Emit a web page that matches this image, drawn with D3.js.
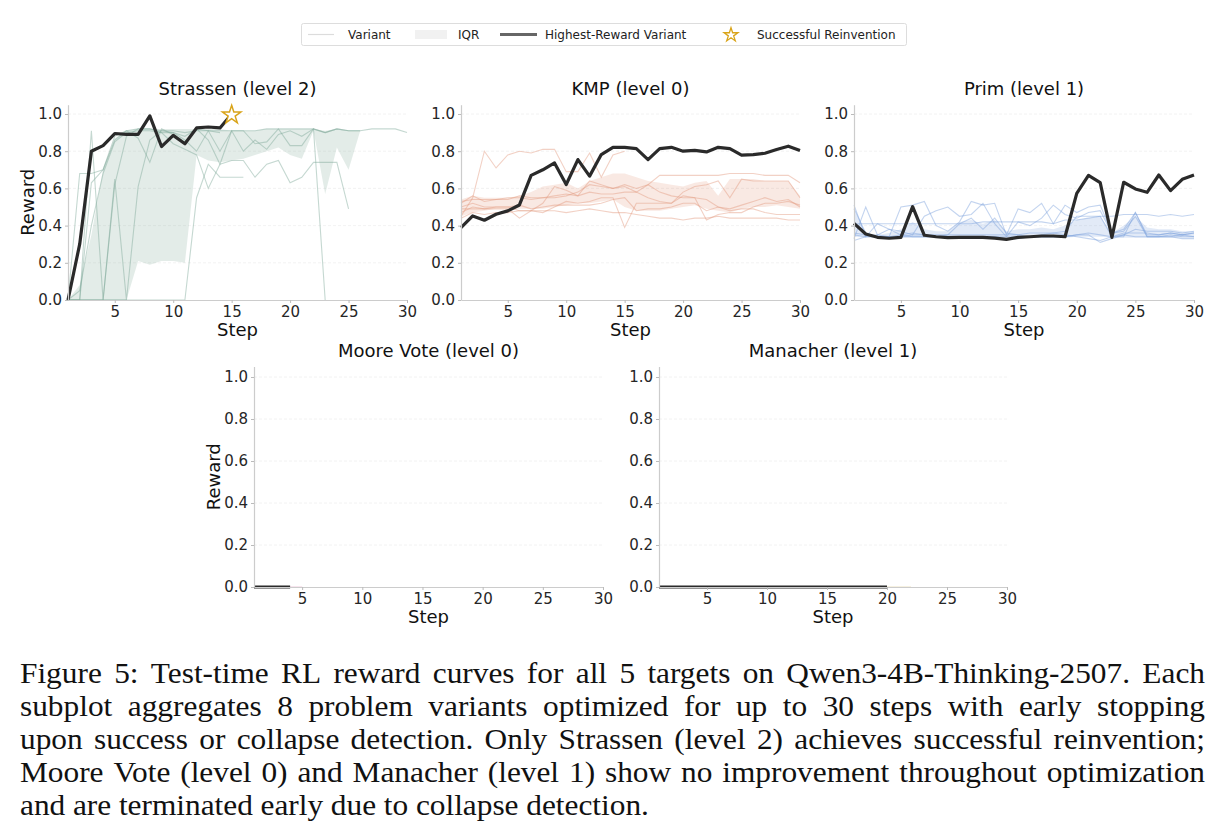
<!DOCTYPE html>
<html>
<head>
<meta charset="utf-8">
<script src="https://cdn.jsdelivr.net/npm/d3@7"></script>
<style>
  body { margin: 0; background: #fff; }
  svg text { font-family: "DejaVu Sans", sans-serif; }
  svg text.cap { font-family: "Liberation Serif", serif; font-size: 28.5px; }
</style>
</head>
<body>
<svg id="fig" width="1223" height="837"></svg>
<script>
// ---- data ----
const yTicks = [0, 0.2, 0.4, 0.6, 0.8, 1.0];
const xTicks = [5, 10, 15, 20, 25, 30];

const strassenBest = [0.00, 0.30, 0.80, 0.83, 0.895, 0.89, 0.89, 0.99, 0.825, 0.885, 0.84, 0.925, 0.93, 0.925, 1.00];
const strassenVariants = [
  [0.00, 0.68, 0.68, 0.70, 0.86, 0.91, 0.92, 0.92, 0.91, 0.91, 0.90, 0.91, 0.91, 0.91, 0.91, 0.91, 0.91, 0.92, 0.92, 0.92, 0.92, 0.92, 0.90, 0.92, 0.91, 0.91, 0.92, 0.92, 0.92, 0.90],
  [0.00, 0.00, 0.91, 0.00, 0.65, 0.00, 0.61, 0.86, 0.91, 0.90, 0.86, 0.80, 0.91, 0.80, 0.91, 0.80, 0.86, 0.81, 0.89, 0.91, 0.88, 0.92, 0.00],
  [0.00, 0.00, 0.63, 0.70, 0.88, 0.91, 0.87, 0.74, 0.92, 0.89, 0.85, 0.92, 0.86, 0.73, 0.91, 0.91, 0.84, 0.85, 0.92, 0.83, 0.83, 0.92, 0.90, 0.92, 0.91, 0.91],
  [0.00, 0.00, 0.00, 0.00, 0.00, 0.00, 0.00, 0.00, 0.00, 0.00, 0.00, 0.55, 0.73, 0.66, 0.66, 0.66],
  [0.00, 0.00, 0.00, 0.00, 0.62, 0.88, 0.92, 0.92, 0.90, 0.84, 0.81, 0.78, 0.60, 0.73, 0.75, 0.75, 0.66, 0.73, 0.75, 0.63, 0.66, 0.74, 0.74, 0.74, 0.49],
  [0.00, 0.05, 0.40, 0.68, 0.85, 0.90, 0.91, 0.91, 0.90, 0.90, 0.88, 0.92, 0.91, 0.90],
  [0.00, 0.00, 0.00, 0.00, 0.00, 0.00]
];
const strassenIqrLo = [0, 0, 0, 0, 0, 0, 0.21, 0.19, 0.21, 0.21, 0.20, 0.78, 0.75, 0.74, 0.75, 0.76, 0.78, 0.80, 0.82, 0.78, 0.76, 0.91, 0.57, 0.82, 0.70, 0.91];
const strassenIqrHi = [0, 0.08, 0.35, 0.70, 0.87, 0.91, 0.92, 0.92, 0.92, 0.92, 0.92, 0.92, 0.92, 0.92, 0.91, 0.91, 0.91, 0.92, 0.92, 0.92, 0.92, 0.92, 0.91, 0.92, 0.91, 0.91];

const kmpBest = [0.389, 0.452, 0.429, 0.461, 0.479, 0.511, 0.67, 0.70, 0.737, 0.621, 0.755, 0.666, 0.782, 0.821, 0.821, 0.814, 0.755, 0.814, 0.821, 0.80, 0.804, 0.796, 0.821, 0.814, 0.779, 0.782, 0.789, 0.809, 0.827, 0.804];
const kmpVariants = [
  [0.45, 0.55, 0.80, 0.71, 0.78, 0.80, 0.79, 0.81, 0.81, 0.69, 0.69, 0.79, 0.66, 0.78, 0.80],
  [0.52, 0.56, 0.53, 0.54, 0.54, 0.56, 0.55, 0.55, 0.55, 0.56, 0.58, 0.62, 0.61, 0.60, 0.62, 0.60, 0.62, 0.67, 0.67, 0.67, 0.67, 0.67, 0.67, 0.68, 0.68, 0.68, 0.67, 0.67, 0.67, 0.63],
  [0.50, 0.52, 0.50, 0.50, 0.50, 0.48, 0.48, 0.47, 0.50, 0.53, 0.52, 0.53, 0.55, 0.55, 0.39, 0.52, 0.52, 0.52, 0.52, 0.56, 0.55, 0.43, 0.46, 0.47, 0.47, 0.50, 0.52, 0.52, 0.53, 0.51],
  [0.47, 0.50, 0.49, 0.49, 0.49, 0.44, 0.48, 0.52, 0.61, 0.59, 0.56, 0.64, 0.62, 0.60, 0.61, 0.58, 0.62, 0.58, 0.56, 0.55, 0.55, 0.54, 0.50, 0.49, 0.51, 0.53, 0.55, 0.53, 0.54, 0.50],
  [0.44, 0.47, 0.46, 0.47, 0.47, 0.48, 0.48, 0.48, 0.48, 0.47, 0.48, 0.49, 0.48, 0.47, 0.47, 0.46, 0.45, 0.44, 0.44, 0.43, 0.44, 0.44, 0.45, 0.44, 0.44, 0.44, 0.44, 0.44, 0.43, 0.43],
  [0.53, 0.54, 0.54, 0.54, 0.55, 0.55, 0.54, 0.55, 0.56, 0.57, 0.56, 0.58, 0.57, 0.57, 0.58, 0.58, 0.55, 0.53, 0.52, 0.58, 0.61, 0.62, 0.64, 0.55, 0.65, 0.64, 0.64, 0.64, 0.64, 0.55],
  [0.49, 0.49, 0.49, 0.50, 0.50, 0.51, 0.49, 0.50, 0.51, 0.51, 0.51, 0.51, 0.52, 0.54, 0.55, 0.48, 0.49, 0.49, 0.50, 0.52, 0.52, 0.48, 0.50, 0.48, 0.49, 0.49, 0.47, 0.46, 0.46, 0.46]
];
const kmpIqrLo = [0.45, 0.47, 0.48, 0.49, 0.49, 0.49, 0.49, 0.49, 0.50, 0.51, 0.52, 0.52, 0.53, 0.54, 0.50, 0.48, 0.48, 0.48, 0.49, 0.50, 0.51, 0.49, 0.48, 0.47, 0.49, 0.50, 0.50, 0.51, 0.50, 0.49];
const kmpIqrHi = [0.54, 0.56, 0.55, 0.55, 0.55, 0.56, 0.58, 0.61, 0.62, 0.63, 0.60, 0.64, 0.66, 0.68, 0.68, 0.66, 0.64, 0.63, 0.62, 0.61, 0.63, 0.64, 0.56, 0.65, 0.65, 0.65, 0.64, 0.64, 0.64, 0.56];

const primBest = [0.412, 0.355, 0.337, 0.332, 0.337, 0.502, 0.348, 0.34, 0.335, 0.337, 0.337, 0.337, 0.333, 0.326, 0.337, 0.34, 0.344, 0.344, 0.34, 0.573, 0.67, 0.631, 0.337, 0.633, 0.597, 0.579, 0.672, 0.588, 0.649, 0.672];
const primVariants = [
  [0.49, 0.36, 0.34, 0.34, 0.50, 0.51, 0.53, 0.40, 0.37, 0.42, 0.53, 0.51, 0.52, 0.35, 0.49, 0.47, 0.52, 0.41, 0.51, 0.47, 0.50, 0.51, 0.36, 0.38, 0.47, 0.35, 0.35, 0.36, 0.35, 0.36],
  [0.41, 0.41, 0.41, 0.41, 0.41, 0.41, 0.41, 0.41, 0.41, 0.41, 0.41, 0.42, 0.42, 0.42, 0.42, 0.42, 0.42, 0.41, 0.43, 0.43, 0.44, 0.45, 0.45, 0.46, 0.46, 0.46, 0.45, 0.46, 0.45, 0.46],
  [0.33, 0.50, 0.35, 0.38, 0.37, 0.35, 0.45, 0.48, 0.50, 0.45, 0.46, 0.52, 0.41, 0.34, 0.42, 0.40, 0.44, 0.51, 0.46, 0.44, 0.47, 0.48, 0.36, 0.37, 0.45, 0.34, 0.34, 0.34, 0.35, 0.34],
  [0.51, 0.34, 0.34, 0.34, 0.35, 0.36, 0.35, 0.34, 0.34, 0.34, 0.34, 0.34, 0.34, 0.34, 0.34, 0.34, 0.34, 0.34, 0.34, 0.35, 0.36, 0.35, 0.34, 0.34, 0.47, 0.34, 0.34, 0.35, 0.34, 0.34],
  [0.35, 0.34, 0.41, 0.38, 0.35, 0.34, 0.34, 0.34, 0.35, 0.41, 0.44, 0.38, 0.44, 0.36, 0.35, 0.34, 0.35, 0.36, 0.35, 0.34, 0.33, 0.32, 0.34, 0.36, 0.36, 0.36, 0.35, 0.36, 0.35, 0.36],
  [0.32, 0.34, 0.35, 0.34, 0.34, 0.34, 0.34, 0.34, 0.34, 0.34, 0.34, 0.34, 0.34, 0.33, 0.33, 0.34, 0.34, 0.34, 0.34, 0.35, 0.35, 0.31, 0.33, 0.35, 0.34, 0.34, 0.34, 0.34, 0.33, 0.33],
  [0.36, 0.35, 0.34, 0.34, 0.34, 0.35, 0.35, 0.35, 0.35, 0.35, 0.35, 0.35, 0.35, 0.35, 0.35, 0.36, 0.36, 0.36, 0.37, 0.45, 0.45, 0.45, 0.34, 0.35, 0.38, 0.37, 0.37, 0.37, 0.36, 0.37]
];
const primIqrLo = [0.34, 0.335, 0.335, 0.335, 0.335, 0.335, 0.335, 0.335, 0.335, 0.335, 0.335, 0.335, 0.335, 0.335, 0.335, 0.335, 0.335, 0.335, 0.335, 0.34, 0.34, 0.34, 0.335, 0.335, 0.335, 0.335, 0.335, 0.335, 0.335, 0.335];
const primIqrHi = [0.48, 0.36, 0.35, 0.36, 0.38, 0.42, 0.38, 0.37, 0.37, 0.42, 0.43, 0.41, 0.43, 0.37, 0.38, 0.38, 0.39, 0.38, 0.40, 0.43, 0.44, 0.45, 0.36, 0.40, 0.45, 0.39, 0.38, 0.38, 0.37, 0.37];

const mooreBest = [0, 0, 0, 0];
const mooreVariants = [[0, 0, 0, 0, 0]];
const manacherBest = d3.range(20).map(() => 0);
const manacherVariants = [d3.range(22).map(() => 0)];

const captionLines = [
  "Figure 5: Test-time RL reward curves for all 5 targets on Qwen3-4B-Thinking-2507. Each",
  "subplot aggregates 8 problem variants optimized for up to 30 steps with early stopping",
  "upon success or collapse detection. Only Strassen (level 2) achieves successful reinvention;",
  "Moore Vote (level 0) and Manacher (level 1) show no improvement throughout optimization",
  "and are terminated early due to collapse detection."
];

// ---- panels ----
const panels = [
  { title: "Strassen (level 2)", best: strassenBest, variants: strassenVariants, lo: strassenIqrLo, hi: strassenIqrHi,
    color: "#7fa898", x0: 68, x1: 407, yb: 300, y1: 114, ylabel: true, star: 15 },
  { title: "KMP (level 0)", best: kmpBest, variants: kmpVariants, lo: kmpIqrLo, hi: kmpIqrHi,
    color: "#e39a7e", x0: 461, x1: 800, yb: 300, y1: 114 },
  { title: "Prim (level 1)", best: primBest, variants: primVariants, lo: primIqrLo, hi: primIqrHi,
    color: "#7a9fdc", x0: 854, x1: 1194, yb: 300, y1: 114 },
  { title: "Moore Vote (level 0)", best: mooreBest, variants: mooreVariants, lo: [], hi: [],
    color: "#d98cb3", x0: 254, x1: 603, yb: 587, y1: 377, ylabel: true },
  { title: "Manacher (level 1)", best: manacherBest, variants: manacherVariants, lo: [], hi: [],
    color: "#d8c27a", x0: 659, x1: 1007, yb: 587, y1: 377 }
];

const svg = d3.select("#fig");
const starPath = d3.symbol().type(d3.symbolStar);

panels.forEach(p => {
  const x = d3.scaleLinear().domain([1, 30]).range([p.x0, p.x1]);
  const y = d3.scaleLinear().domain([0, 1]).range([p.yb, p.y1]);
  const yTop = y(1.05);
  const g = svg.append("g");

  // grid
  g.selectAll(".grid").data(yTicks.slice(1)).enter().append("line")
    .attr("x1", x(1)).attr("x2", x(30))
    .attr("y1", d => y(d)).attr("y2", d => y(d))
    .attr("stroke", "#efefef").attr("stroke-width", 0.8)
    .attr("stroke-dasharray", "3,2");

  // IQR band
  const band = p.lo.map((v, i) => ({ s: i + 1, lo: v, hi: p.hi[i] }));
  g.append("path").datum(band)
    .attr("d", d3.area().x(d => x(d.s)).y0(d => y(d.lo)).y1(d => y(d.hi)))
    .attr("fill", p.color).attr("fill-opacity", 0.22);

  // variants
  const line = d3.line().x(d => x(d.s)).y(d => y(d.v));
  p.variants.forEach(vs => {
    g.append("path").datum(vs.map((v, i) => ({ s: i + 1, v })))
      .attr("d", line).attr("fill", "none")
      .attr("stroke", p.color).attr("stroke-opacity", 0.45).attr("stroke-width", 1.1);
  });

  // best
  g.append("path").datum(p.best.map((v, i) => ({ s: i + 1, v })))
    .attr("d", line).attr("fill", "none")
    .attr("stroke", "#2a2a2a").attr("stroke-width", 3.2)
    .attr("stroke-linejoin", "round");

  if (p.star) {
    g.append("path")
      .attr("d", starPath.size(105)())
      .attr("transform", `translate(${x(p.star)},${y(p.best[p.star - 1]) + 1})`)
      .attr("fill", "#fff").attr("stroke", "#d9a41a").attr("stroke-width", 1.5);
  }

  // axes
  const ya = d3.scaleLinear().domain([0, 1.05]).range([p.yb, yTop]);
  const gy = g.append("g").attr("transform", `translate(${x(1)},0)`)
    .call(d3.axisLeft(ya).tickValues(yTicks).tickFormat(d3.format(".1f")).tickSize(3).tickPadding(3).tickSizeOuter(0));
  const gx = g.append("g").attr("transform", `translate(0,${p.yb})`)
    .call(d3.axisBottom(x).tickValues(xTicks).tickFormat(d3.format("d")).tickSize(3).tickPadding(3).tickSizeOuter(0));
  [gx, gy].forEach(a => {
    a.select(".domain").attr("stroke", "#cccccc").attr("stroke-width", 1.2);
    a.selectAll(".tick line").attr("stroke", "#bbbbbb");
    a.selectAll(".tick text").attr("fill", "#262626").style("font-size", "15px");
  });

  g.append("text").attr("x", (x(1) + x(30)) / 2).attr("y", yTop - 10)
    .attr("text-anchor", "middle").style("font-size", "18px").attr("fill", "#111")
    .text(p.title);
  g.append("text").attr("x", (x(1) + x(30)) / 2).attr("y", p.yb + 36)
    .attr("text-anchor", "middle").style("font-size", "18px").attr("fill", "#111")
    .text("Step");
  if (p.ylabel) {
    g.append("text")
      .attr("transform", `translate(${x(1) - 34},${(p.yb + yTop) / 2}) rotate(-90)`)
      .attr("text-anchor", "middle").style("font-size", "18px").attr("fill", "#111")
      .text("Reward");
  }
});

// ---- legend ----
const lg = svg.append("g");
lg.append("rect").attr("x", 301.5).attr("y", 23.5).attr("width", 605).attr("height", 22)
  .attr("rx", 2).attr("fill", "#fff").attr("stroke", "#dddddd");
lg.append("line").attr("x1", 308).attr("x2", 334).attr("y1", 34.5).attr("y2", 34.5)
  .attr("stroke", "#dcdcdc").attr("stroke-width", 1.2);
lg.append("rect").attr("x", 415).attr("y", 30).attr("width", 32).attr("height", 9).attr("fill", "#f1f1f1");
lg.append("line").attr("x1", 500).attr("x2", 537).attr("y1", 34.5).attr("y2", 34.5)
  .attr("stroke", "#666").attr("stroke-width", 3);
lg.append("path").attr("d", starPath.size(60)())
  .attr("transform", "translate(731,35)")
  .attr("fill", "#fff").attr("stroke", "#d9a41a").attr("stroke-width", 1.3);
[["Variant", 348], ["IQR", 458], ["Highest-Reward Variant", 545], ["Successful Reinvention", 757]].forEach(([t, xx]) => {
  lg.append("text").attr("x", xx).attr("y", 39).style("font-size", "12px").attr("fill", "#222").text(t);
});

// ---- caption (justified, slightly widened to match the book face) ----
const stretch = 1.1;
const cap = svg.append("g").attr("transform", `scale(${stretch},1)`);
const capLeft = 20 / stretch, capRight = 1205 / stretch;
captionLines.forEach((ln, i) => {
  const yy = 683 + i * 33;
  const words = ln.split(" ");
  const last = i === captionLines.length - 1;
  const nodes = words.map(w => cap.append("text").attr("class", "cap").attr("y", yy).attr("fill", "#111").text(w));
  const widths = nodes.map(n => n.node().getComputedTextLength());
  const total = d3.sum(widths);
  const gap = last ? 7 : (capRight - capLeft - total) / (words.length - 1);
  let cx = capLeft;
  nodes.forEach((n, k) => { n.attr("x", cx); cx += widths[k] + gap; });
});
</script>
</body>
</html>
